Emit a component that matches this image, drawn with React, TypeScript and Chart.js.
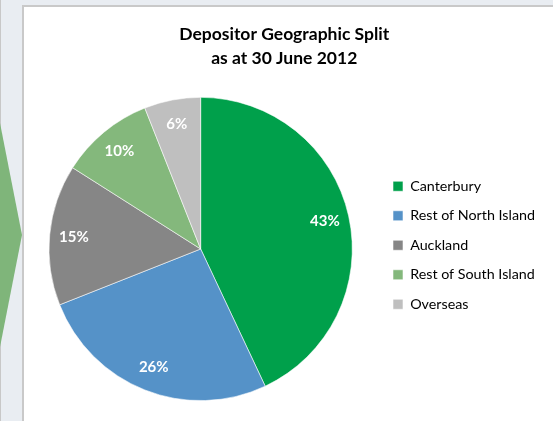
import React, { useEffect, useRef } from "react";
import { Chart, registerables } from "chart.js";

Chart.register(...registerables);

const categories = ["Canterbury", "Rest of North Island", "Auckland", "Rest of South Island", "Overseas"];
const shares = [43, 26, 15, 10, 6];
const colors = ["#00a04b", "#5592c8", "#868686", "#84b87c", "#bfbfbf"];
const titleLines = ["Depositor Geographic Split", "as at 30 June 2012"];

const FONT = "Lato, 'Open Sans', sans-serif";

const pctLabels = {
  id: "pctLabels",
  afterDatasetsDraw(chart: any) {
    const ctx = chart.ctx;
    const meta = chart.getDatasetMeta(0);
    ctx.save();
    ctx.fillStyle = "#ffffff";
    ctx.font = `bold 15px ${FONT}`;
    ctx.textAlign = "center";
    ctx.textBaseline = "middle";
    meta.data.forEach((arc: any, i: number) => {
      const { x, y, startAngle, endAngle, outerRadius } = arc.getProps(
        ["x", "y", "startAngle", "endAngle", "outerRadius"],
        true
      );
      const mid = (startAngle + endAngle) / 2;
      const r = outerRadius * 0.84;
      ctx.fillText(shares[i] + "%", x + Math.cos(mid) * r, y + Math.sin(mid) * r);
    });
    ctx.restore();
  },
};

export default function App() {
  const ref = useRef<HTMLCanvasElement | null>(null);
  useEffect(() => {
    if (!ref.current) return;
    const chart = new Chart(ref.current, {
      type: "pie",
      data: {
        labels: categories,
        datasets: [
          {
            data: shares,
            backgroundColor: colors,
            borderColor: "rgba(255,255,255,0.7)",
            borderWidth: 0.8,
          },
        ],
      },
      options: {
        animation: false,
        responsive: false,
        maintainAspectRatio: false,
        layout: { padding: { left: 23.5, right: 8, top: 0, bottom: 20 } },
        plugins: {
          title: {
            display: true,
            text: titleLines,
            color: "#000000",
            font: { family: FONT, size: 17.5, weight: "bold", lineHeight: 1.37 },
            padding: { top: 22, bottom: 27 },
          },
          legend: {
            display: true,
            position: "right",
            align: "start",
            title: {
              display: true,
              text: " ",
              font: { family: FONT, size: 13, lineHeight: 1.2 },
              padding: { top: 148.3, bottom: 0 },
            },
            labels: {
              boxWidth: 10,
              boxHeight: 10,
              padding: 15.2,
              color: "#000000",
              font: { family: FONT, size: 14.3 },
            },
          },
          tooltip: { enabled: false },
        },
      },
      plugins: [pctLabels],
    });
    return () => chart.destroy();
  }, []);

  return (
    <div
      style={{
        position: "fixed",
        left: 0,
        top: 0,
        width: 553,
        height: 421,
        background: "#e9edf2",
        overflow: "hidden",
      }}
    >
      <div style={{ position: "absolute", left: 0, top: 0, width: 1, height: 421, background: "#c8c8c8" }} />
      <div
        style={{
          position: "absolute",
          left: 0,
          top: 0,
          width: 23,
          height: 421,
          background: "#7fb57a",
          clipPath: "polygon(0px 123px, 22px 235px, 0px 347px)",
        }}
      />
      <div
        style={{
          position: "absolute",
          left: 22,
          top: 5,
          width: 560,
          height: 440,
          background: "#ffffff",
          borderLeft: "2px solid #c9c9c9",
          borderTop: "2px solid #c9c9c9",
        }}
      />
      <canvas
        ref={ref}
        width={553}
        height={421}
        style={{ position: "absolute", left: 0, top: 0, width: 553, height: 421 }}
      />
    </div>
  );
}
